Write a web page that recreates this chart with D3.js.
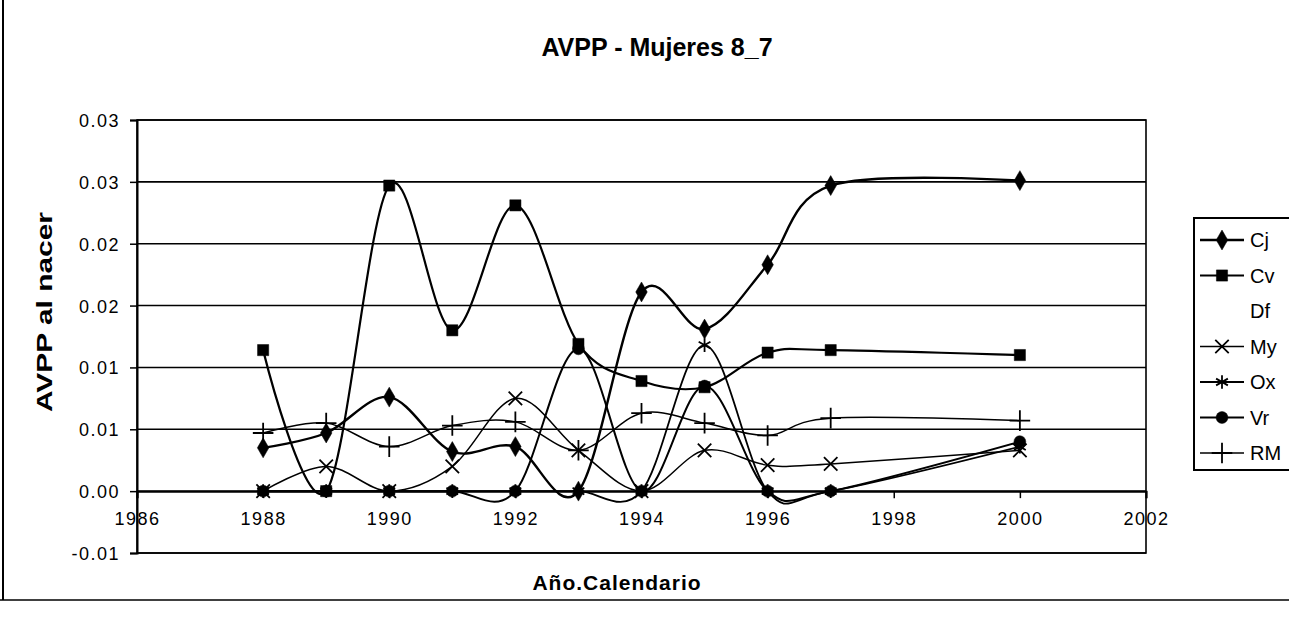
<!DOCTYPE html>
<html>
<head>
<meta charset="utf-8">
<script src="https://cdn.jsdelivr.net/npm/d3@7"></script>
<style>
  body { margin: 0; background: #fff; }
  text { font-family: "Liberation Sans", Arial, sans-serif; fill: #000; }
</style>
</head>
<body>
<div id="chart"></div>
<script>
// values
var years = [1988, 1989, 1990, 1991, 1992, 1993, 1994, 1995, 1996, 1997, 2000];
var cj = [0.0035, 0.0047, 0.0076, 0.0032, 0.0036, 0.0000, 0.0161, 0.0131, 0.0183, 0.0247, 0.0251];
var cv = [0.0114, 0.0000, 0.0247, 0.0130, 0.0231, 0.0119, 0.0089, 0.0084, 0.0112, 0.0114, 0.0110];
var df = [null, null, null, null, null, null, null, null, null, null, null];
var my = [0.0000, 0.0020, 0.0000, 0.0020, 0.0075, 0.0033, 0.0000, 0.0033, 0.0021, 0.0022, 0.0033];
var ox = [0.0000, 0.0000, 0.0000, 0.0000, 0.0000, 0.0000, 0.0000, 0.0118, 0.0000, 0.0000, 0.0036];
var vr = [0.0000, 0.0000, 0.0000, 0.0000, 0.0000, 0.0115, 0.0000, 0.0085, 0.0000, 0.0000, 0.0040];
var rm = [0.0047, 0.0055, 0.0036, 0.0053, 0.0056, 0.0033, 0.0063, 0.0055, 0.0045, 0.0059, 0.0057];

var seriesNames = ["Cj", "Cv", "Df", "My", "Ox", "Vr", "RM"];
var seriesValues = [cj, cv, df, my, ox, vr, rm];

var xTicks = [1986, 1988, 1990, 1992, 1994, 1996, 1998, 2000, 2002];
var yTicks = [-0.005, 0, 0.005, 0.01, 0.015, 0.02, 0.025, 0.03];
var yTickLabels = ["-0.01", "0.00", "0.01", "0.01", "0.02", "0.02", "0.03", "0.03"];

var width = 1289, height = 632;
var plot = {left: 137, right: 1146, top: 120, bottom: 553};

var svg = d3.select("#chart")
  .append("svg")
    .attr("width", width)
    .attr("height", height);

// outer chart frame
svg.append("line").attr("x1", 3).attr("x2", 3).attr("y1", 0).attr("y2", 600)
  .attr("stroke", "#000").attr("stroke-width", 2);
svg.append("line").attr("x1", 0).attr("x2", width).attr("y1", 600).attr("y2", 600)
  .attr("stroke", "#000").attr("stroke-width", 1.5);

var x = d3.scaleLinear()
  .domain([1986, 2002])
  .range([plot.left, plot.right]);

var y = d3.scaleLinear()
  .domain([-0.005, 0.03])
  .range([plot.bottom, plot.top]);

// gridlines
svg.append("g")
  .selectAll("line")
  .data(yTicks)
  .enter()
  .append("line")
    .attr("x1", plot.left)
    .attr("x2", plot.right)
    .attr("y1", function(d) { return y(d); })
    .attr("y2", function(d) { return y(d); })
    .attr("stroke", "#000")
    .attr("stroke-width", 1.6);

svg.append("rect")
  .attr("x", plot.left).attr("y", plot.top)
  .attr("width", plot.right - plot.left).attr("height", plot.bottom - plot.top)
  .attr("fill", "none").attr("stroke", "#000").attr("stroke-width", 1.6);

// y axis
var yAxis = svg.append("g")
  .attr("transform", "translate(" + plot.left + ",0)")
  .call(d3.axisLeft(y)
    .tickValues(yTicks)
    .tickSize(7)
    .tickPadding(10)
    .tickFormat(function(d, i) { return yTickLabels[i]; }));
yAxis.select(".domain").attr("stroke-width", 2);
yAxis.selectAll(".tick line").attr("stroke-width", 1.5);
yAxis.selectAll("text")
  .style("font-size", "18px")
  .style("letter-spacing", "1.5px")
  .attr("dy", "0.36em");

// x axis crossing at zero
var xAxis = svg.append("g")
  .attr("transform", "translate(0," + y(0) + ")")
  .call(d3.axisBottom(x)
    .tickValues(xTicks)
    .tickSize(7)
    .tickPadding(14)
    .tickFormat(d3.format("d")));
xAxis.select(".domain").attr("stroke-width", 2);
xAxis.selectAll(".tick line").attr("stroke-width", 1.5);
xAxis.selectAll("text")
  .style("font-size", "18px")
  .style("letter-spacing", "1.5px");

// titles
svg.append("text")
  .attr("x", 657).attr("y", 56)
  .attr("text-anchor", "middle")
  .style("font-size", "25px").style("font-weight", "bold")
  .text("AVPP - Mujeres 8_7");

svg.append("text")
  .attr("transform", "translate(52,312) rotate(-90)")
  .attr("text-anchor", "middle")
  .attr("textLength", 200)
  .attr("lengthAdjust", "spacingAndGlyphs")
  .style("font-size", "22px").style("font-weight", "bold")
  .text("AVPP al nacer");

svg.append("text")
  .attr("x", 617).attr("y", 590)
  .attr("text-anchor", "middle")
  .style("font-size", "21px").style("font-weight", "bold")
  .style("letter-spacing", "1px")
  .text("Año.Calendario");

// marker per series, default Excel order
var symbols = {
  Cj: {type: d3.symbolDiamond, size: 115, filled: true},
  Cv: {type: d3.symbolSquare, size: 125, filled: true},
  Df: null,
  My: {type: d3.symbolTimes, size: 120, filled: false},
  Ox: {type: d3.symbolAsterisk, size: 130, filled: false},
  Vr: {type: d3.symbolCircle, size: 110, filled: true},
  RM: {type: d3.symbolPlus, size: 140, filled: false}
};
var lineWidth = {Cj: 2.4, Cv: 2.2, Df: 1.5, My: 1.5, Ox: 1.8, Vr: 2, RM: 1.5};

var line = d3.line()
  .defined(function(d) { return d.v !== null; })
  .x(function(d) { return x(d.year); })
  .y(function(d) { return y(d.v); })
  .curve(d3.curveCardinal.tension(0));

function drawMarker(g, name, cx, cy) {
  var s = symbols[name];
  if (!s) return;
  g.append("path")
    .attr("d", d3.symbol().type(s.type).size(s.size)())
    .attr("transform", "translate(" + cx + "," + cy + ")")
    .attr("fill", s.filled ? "#000" : "none")
    .attr("stroke", "#000")
    .attr("stroke-width", s.filled ? 0.5 : 1.8);
}

for (let i = 0; i < seriesNames.length; i++) {
  let name = seriesNames[i];
  let pts = years.map(function(yr, j) { return {year: yr, v: seriesValues[i][j]}; });
  let g = svg.append("g");
  g.append("path")
    .datum(pts)
    .attr("d", line)
    .attr("fill", "none")
    .attr("stroke", "#000")
    .attr("stroke-width", lineWidth[name]);
  pts.filter(function(d) { return d.v !== null; }).forEach(function(d) {
    drawMarker(g, name, x(d.year), y(d.v));
  });
}

// legend
var legend = svg.append("g").attr("transform", "translate(1194,218)");
legend.append("rect")
  .attr("width", 110).attr("height", 252)
  .attr("fill", "#fff").attr("stroke", "#000").attr("stroke-width", 2);

seriesNames.forEach(function(name, i) {
  let cy = 22 + i * 35.5;
  if (symbols[name]) {
    legend.append("line")
      .attr("x1", 6).attr("x2", 50).attr("y1", cy).attr("y2", cy)
      .attr("stroke", "#000").attr("stroke-width", lineWidth[name]);
    drawMarker(legend, name, 28, cy);
  }
  legend.append("text")
    .attr("x", 56).attr("y", cy).attr("dy", "0.36em")
    .style("font-size", "20px")
    .text(name);
});
</script>
</body>
</html>
